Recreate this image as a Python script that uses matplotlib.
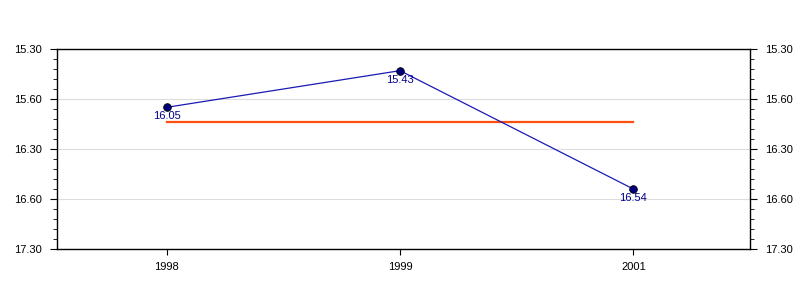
import matplotlib
matplotlib.use("Agg")
import matplotlib.pyplot as plt
from matplotlib.ticker import MultipleLocator, FuncFormatter

years = ["1998", "1999", "2001"]
times = ["16.05", "15.43", "16.54"]  # minutes.seconds

def toMin(s):
    m, sec = s.split(".")
    return int(m) + int(sec) / 60.0

def fmt(v, pos):
    m = int(v + 1e-9)
    sec = int(round((v - m) * 60))
    if sec == 60:
        m, sec = m + 1, 0
    # the original chart shows whole minutes as xx.60 of the previous one
    if sec == 0:
        return "%d.60" % (m - 1)
    return "%d.%02d" % (m, sec)

vals = [toMin(t) for t in times]
avg = sum(vals) / len(vals)
xs = list(range(len(years)))

plt.rcParams['font.family'] = ['Liberation Sans', 'DejaVu Sans']
fig = plt.figure(figsize=(8, 3), dpi=100)
ax = fig.add_axes([57/800, 1-249/300, (750-57)/800, 200/300])

ax.plot(xs, vals, color='#1a1ab4', lw=0.9, zorder=3)
ax.plot(xs, vals, 'o', ms=5.5, mfc='#000080', mec='black', mew=0.6, zorder=4)
ax.plot([xs[0], xs[-1]], [avg, avg], color='#ff4f0f', lw=1.6, zorder=2)
for x, v, t in zip(xs, vals, times):
    ax.annotate(t, (x, v), xytext=(0, -3), textcoords='offset points',
                ha='center', va='top', color='#00008b', fontsize=8)

ax.set_ylim(17.5, 15.5)
ax.set_xlim(-0.47, 2.5)
ax.yaxis.set_major_locator(MultipleLocator(0.5))
ax.yaxis.set_minor_locator(MultipleLocator(0.1))
ax.yaxis.set_major_formatter(FuncFormatter(fmt))
ax.set_xticks(xs)
ax.set_xticklabels(years)
ax.grid(axis='y', color='#dddddd', lw=0.8)
ax.set_axisbelow(True)
ax.tick_params(axis='y', which='both', left=True, right=True, labelleft=True,
               labelright=True, labelsize=8, direction='out')
ax.tick_params(axis='y', which='major', length=5, pad=6)
ax.tick_params(axis='y', which='minor', length=3)
ax.tick_params(axis='x', labelsize=8, length=4, pad=5)
for s in ax.spines.values():
    s.set_linewidth(1.0)

fig.savefig("out.png", dpi=100)
